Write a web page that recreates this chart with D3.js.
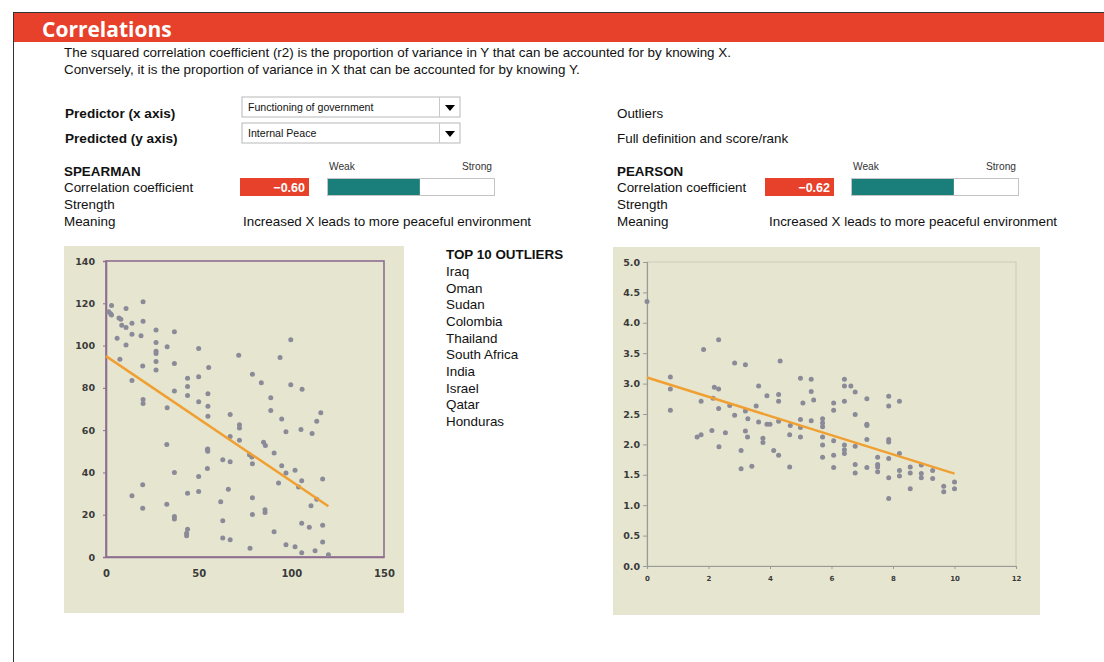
<!DOCTYPE html>
<html>
<head>
<meta charset="utf-8">
<script src="https://cdn.jsdelivr.net/npm/d3@7/dist/d3.min.js"></script>
<style>
body { margin: 0; background: #fff; }
svg text { font-family: "Liberation Sans", Arial, sans-serif; }
</style>
</head>
<body>
<div id="sheet"></div>
<script>
const title = "Correlations";
const introLines = [
  "The squared correlation coefficient (r2) is the proportion of variance in Y that can be accounted for by knowing X.",
  "Conversely, it is the proportion of variance in X that can be accounted for by knowing Y."
];
const selectorLabels = ["Predictor (x axis)", "Predicted (y axis)"];
const selectorValues = ["Functioning of government", "Internal Peace"];
const sideLabels = ["Outliers", "Full definition and score/rank"];
const methods = ["SPEARMAN", "PEARSON"];
const rowLabels = ["Correlation coefficient", "Strength", "Meaning"];
const coefficients = [-0.60, -0.62];
const strengthFill = [0.55, 0.61];
const meanings = ["Increased X leads to more peaceful environment", "Increased X leads to more peaceful environment"];
const outlierTitle = "TOP 10 OUTLIERS";
const outliers = ["Iraq", "Oman", "Sudan", "Colombia", "Thailand", "South Africa", "India", "Israel", "Qatar", "Honduras"];

// spearman: ranks
const spearmanPoints = [
  [1.5,116],[2.5,115],[3,114.5],[3,119],[7,113],[8,112.5],[8.5,109.6],[10.8,117.5],[6,103.5],[10.8,108.5],
  [10.8,100.3],[14,110.6],[14,105.4],[7.5,93.5],[18.9,104.6],[20,120.7],[20,111.5],[19.8,90.3],[14,83.5],[20,74.5],
  [20,72.6],[27,107.4],[27,101.4],[27,97.3],[27,96.2],[27,92.5],[27,88.4],[33,99.5],[36.9,106.5],[36.9,91.5],
  [36.9,78.5],[33,70.6],[44,84.5],[44,80.7],[44,76.4],[50,98.6],[50,85.3],[50,73.4],[55.4,89.6],[55,77.2],
  [55,71.3],[55,66.6],[67,67.4],[71.6,95.4],[72,62.6],[72,61],[67,57],[99.7,102.7],[93.9,94.4],[79,86.4],
  [83.8,82.4],[99.7,81.5],[105.8,79.3],[88.9,75.3],[88.9,69.3],[94.8,65.3],[115.9,68.2],[113.7,64.2],[97.1,59.2],[105.2,60.3],
  [111.2,58.4],[72,55.2],[85,54.3],[86,52.7],[54.7,50.8],[90.7,49.2],[77.4,48.4],[78.7,47.3],[63,46],[67,45.1],
  [79,44.1],[94.8,43.2],[102,41],[54.7,41.9],[97.1,39.7],[105.6,36.1],[93.1,35],[116.9,36.9],[103.9,33.1],[66,32.1],
  [113.7,27.3],[61.9,26.1],[79,28],[110.6,24.2],[85.8,22.3],[85.8,21],[79,20.1],[63,17.1],[105.6,16],[109.7,14.1],
  [116.9,15],[90.7,12],[63,9],[67,8.1],[97.1,5.8],[102,4.9],[116.9,7.1],[77.7,4.1],[105.6,2],[112.8,3],
  [120,1.1],[32.8,53.2],[54.9,51.1],[54.9,50],[36.9,40],[50,38.1],[19.8,34.2],[14,29],[44,30.2],[50,31],
  [32.8,25],[19.8,23.1],[36.9,19.1],[36.9,18],[44,13.1],[43.5,11.2],[43.5,10]
];
const spearmanFit = [[0,95],[120,24]];
const spearmanXTicks = [0, 50, 100, 150];
const spearmanYTicks = [0, 20, 40, 60, 80, 100, 120, 140];

// pearson: scores
const pearsonPoints = [
  [0,4.35],[0.76,3.11],[0.76,2.91],[0.76,2.56],[1.84,3.56],[2.33,3.72],[1.76,2.71],[2.19,2.94],[2.33,2.91],[2.15,2.76],
  [2.33,2.59],[2.85,3.34],[3.2,3.31],[2.69,2.64],[2.85,2.48],[3.2,2.55],[3.28,2.42],[3.63,2.96],[3.55,2.63],[3.63,2.37],
  [3.9,2.8],[4.28,2.82],[4.28,2.71],[4.33,3.37],[3.9,2.33],[4.0,2.33],[4.28,2.38],[4.66,2.31],[4.99,3.09],[5.34,3.07],
  [5.07,2.68],[5.34,2.87],[5.42,2.73],[4.99,2.41],[4.99,2.28],[5.34,2.39],[5.71,2.42],[5.71,2.35],[4.64,2.16],[4.99,2.12],
  [5.71,2.12],[1.63,2.12],[1.76,2.16],[2.11,2.23],[2.55,2.19],[3.2,2.22],[3.27,2.12],[3.77,2.1],[2.34,1.96],[3.06,1.9],
  [3.06,1.6],[3.41,1.64],[3.77,2.03],[4.12,1.9],[4.28,1.82],[4.64,1.63],[5.71,2.29],[5.71,1.99],[5.71,1.79],[6.07,2.06],
  [6.07,1.82],[6.07,1.62],[6.42,1.99],[6.42,1.91],[6.42,1.85],[6.77,1.97],[6.77,1.67],[6.77,1.53],[7.15,2.31],[7.15,2.08],
  [7.15,1.62],[7.5,1.79],[7.5,1.67],[7.5,1.63],[7.5,1.55],[7.86,2.08],[7.86,2.04],[7.86,1.77],[7.86,1.45],[7.86,1.11],
  [8.21,1.85],[8.21,1.57],[8.21,1.48],[8.56,1.63],[8.56,1.53],[8.56,1.27],[8.92,1.66],[8.92,1.52],[8.92,1.45],[9.29,1.57],
  [9.29,1.44],[9.65,1.31],[9.65,1.22],[10.0,1.38],[10.0,1.27],[6.42,3.07],[6.42,2.96],[6.63,2.96],[6.77,2.86],[6.07,2.68],
  [6.07,2.56],[6.42,2.71],[7.15,2.75],[7.86,2.79],[7.86,2.63],[8.21,2.71],[6.77,2.49],[7.15,2.33]
];
const pearsonFit = [[0,3.1],[10,1.52]];
const pearsonXTicks = [0, 2, 4, 6, 8, 10, 12];
const pearsonYTicks = [0, 0.5, 1, 1.5, 2, 2.5, 3, 3.5, 4, 4.5, 5];

const W = 1104, H = 662;
const red = "#e8412b", teal = "#1a7f7b", beige = "#e6e6d0", dot = "#8a8a98", orange = "#f0a032";
const bodyFont = "13.4px";

const svg = d3.select("#sheet").append("svg").attr("width", W).attr("height", H);

// frame + header
svg.append("rect").attr("x", 13).attr("y", 13).attr("width", W - 13).attr("height", 29).attr("fill", red);
svg.append("line").attr("x1", 13.5).attr("x2", 13.5).attr("y1", 12).attr("y2", H).attr("stroke", "#333");
svg.append("line").attr("x1", 13).attr("x2", W).attr("y1", 12.5).attr("y2", 12.5).attr("stroke", "#333");
svg.append("text").text(title).attr("x", 42).attr("y", 37)
  .style("font-family", "'Open Sans', 'Noto Sans', sans-serif").style("font-weight", "700")
  .style("font-size", "21px").attr("fill", "#fff");

svg.selectAll("text.intro").data(introLines).enter().append("text")
  .attr("class", "intro").text(d => d)
  .attr("x", 64).attr("y", (d, i) => 57 + i * 17)
  .style("font-size", bodyFont).attr("fill", "#111");

// selectors
svg.selectAll("text.sel").data(selectorLabels).enter().append("text")
  .attr("class", "sel").text(d => d)
  .attr("x", 65).attr("y", (d, i) => 118 + i * 24.5)
  .style("font-size", "13.6px").style("font-weight", "700").attr("fill", "#111");

const boxes = svg.selectAll("g.dd").data(selectorValues).enter().append("g")
  .attr("class", "dd").attr("transform", (d, i) => "translate(242," + (97 + i * 26) + ")");
boxes.append("rect").attr("width", 218).attr("height", 20).attr("fill", "#fff").attr("stroke", "#b8b8b8");
boxes.append("line").attr("x1", 197.5).attr("x2", 197.5).attr("y1", 0).attr("y2", 20).attr("stroke", "#c8c8c8");
boxes.append("path").attr("d", "M203,8 L213,8 L208,14 Z").attr("fill", "#000");
boxes.append("text").text(d => d).attr("x", 6).attr("y", 14)
  .style("font-family", "'Liberation Sans Narrow', 'Arial Narrow', sans-serif")
  .style("font-size", "10.6px").attr("fill", "#111");

svg.selectAll("text.side").data(sideLabels).enter().append("text")
  .attr("class", "side").text(d => d)
  .attr("x", 617).attr("y", (d, i) => 118 + i * 24.5)
  .style("font-size", bodyFont).attr("fill", "#111");

// correlation blocks
const blockX = [64, 617], boxX = [240, 765], barX = [327, 851], meanX = [243, 769];
const barW = 167;
const fillScale = d3.scaleLinear().domain([0, 1]).range([0, barW]);

methods.forEach((m, k) => {
  const g = svg.append("g");
  g.append("text").text(m).attr("x", blockX[k]).attr("y", 176)
    .style("font-size", "13.4px").style("font-weight", "700").attr("fill", "#111");
  g.selectAll("text.row").data(rowLabels).enter().append("text")
    .attr("class", "row").text(d => d)
    .attr("x", blockX[k]).attr("y", (d, i) => 192 + i * 17)
    .style("font-size", bodyFont).attr("fill", "#111");
  g.append("rect").attr("x", boxX[k]).attr("y", 178).attr("width", 69).attr("height", 18).attr("fill", red);
  g.append("text").text(d3.format(".2f")(coefficients[k])).attr("x", boxX[k] + 65).attr("y", 191.5)
    .attr("text-anchor", "end").style("font-size", "12.5px").style("font-weight", "700").attr("fill", "#fff");
  g.append("rect").attr("x", barX[k] + 0.5).attr("y", 178.5).attr("width", barW).attr("height", 17)
    .attr("fill", "#fff").attr("stroke", "#c4c4c4");
  g.append("rect").attr("x", barX[k] + 1).attr("y", 179).attr("width", fillScale(strengthFill[k]))
    .attr("height", 16).attr("fill", teal);
  g.append("text").text("Weak").attr("x", barX[k] + 2).attr("y", 170)
    .style("font-size", "10.2px").attr("fill", "#333");
  g.append("text").text("Strong").attr("x", barX[k] + barW - 2).attr("y", 170).attr("text-anchor", "end")
    .style("font-size", "10.2px").attr("fill", "#333");
  g.append("text").text(meanings[k]).attr("x", meanX[k]).attr("y", 226)
    .style("font-size", bodyFont).attr("fill", "#111");
});

// outliers list
svg.append("text").text(outlierTitle).attr("x", 446).attr("y", 259)
  .style("font-size", "13.4px").style("font-weight", "700").attr("fill", "#111");
svg.selectAll("text.out").data(outliers).enter().append("text")
  .attr("class", "out").text(d => d)
  .attr("x", 446).attr("y", (d, i) => 276 + i * 16.65)
  .style("font-size", bodyFont).attr("fill", "#111");

// scatter helper
function scatter(cfg) {
  const g = svg.append("g");
  g.append("rect").attr("x", cfg.panel[0]).attr("y", cfg.panel[1])
    .attr("width", cfg.panel[2]).attr("height", cfg.panel[3]).attr("fill", beige);
  const x = d3.scaleLinear().domain(cfg.xDomain).range([cfg.plot[0], cfg.plot[1]]);
  const y = d3.scaleLinear().domain(cfg.yDomain).range([cfg.plot[3], cfg.plot[2]]);

  g.append("rect").attr("x", x(cfg.xDomain[0])).attr("y", y(cfg.yDomain[1]))
    .attr("width", x(cfg.xDomain[1]) - x(cfg.xDomain[0]))
    .attr("height", y(cfg.yDomain[0]) - y(cfg.yDomain[1]))
    .attr("fill", "none").attr("stroke", cfg.border).attr("stroke-width", cfg.borderW);

  const ya = g.append("g").attr("transform", "translate(" + x(cfg.xDomain[0]) + ",0)")
    .call(d3.axisLeft(y).tickValues(cfg.yTicks).tickFormat(cfg.yFmt).tickSize(cfg.yTickSize).tickPadding(cfg.yPad));
  const xa = g.append("g").attr("transform", "translate(0," + y(cfg.yDomain[0]) + ")")
    .call(d3.axisBottom(x).tickValues(cfg.xTicks).tickFormat(cfg.xFmt).tickSize(cfg.xTickSize).tickPadding(cfg.xPad));
  [ya, xa].forEach(a => {
    a.select(".domain").attr("stroke", cfg.axisColor).attr("stroke-width", cfg.borderW);
    a.selectAll(".tick line").attr("stroke", cfg.axisColor);
    a.selectAll("text").style("font-family", "'DejaVu Sans', Verdana, sans-serif")
      .style("font-weight", "700").attr("fill", "#3a3a3a");
  });
  ya.selectAll("text").style("font-size", cfg.yFont);
  xa.selectAll("text").style("font-size", cfg.xFont);

  g.selectAll("circle").data(cfg.points).enter().append("circle")
    .attr("cx", d => x(d[0])).attr("cy", d => y(d[1])).attr("r", 2.5).attr("fill", dot);

  g.append("path").datum(cfg.fit)
    .attr("d", d3.line().x(d => x(d[0])).y(d => y(d[1])))
    .attr("stroke", orange).attr("stroke-width", 2.5).attr("fill", "none");
}

scatter({
  panel: [64, 246, 340, 367],
  plot: [106, 384, 261, 557],
  xDomain: [0, 150], yDomain: [0, 140],
  xTicks: spearmanXTicks, yTicks: spearmanYTicks,
  xFmt: d3.format("d"), yFmt: d3.format("d"),
  border: "#8e6e90", borderW: 1.6, axisColor: "#8e6e90",
  yTickSize: 3, yPad: 8, xTickSize: 0, xPad: 13,
  yFont: "9.5px", xFont: "10px",
  points: spearmanPoints, fit: spearmanFit
});

scatter({
  panel: [613, 247, 427, 368],
  plot: [647, 1016, 262, 566],
  xDomain: [0, 12], yDomain: [0, 5],
  xTicks: pearsonXTicks, yTicks: pearsonYTicks,
  xFmt: d3.format("d"), yFmt: d3.format(".1f"),
  border: "#cfcfbf", borderW: 1.2, axisColor: "#9a9a9a",
  yTickSize: 4, yPad: 3, xTickSize: 3, xPad: 7,
  yFont: "9.5px", xFont: "7px",
  points: pearsonPoints, fit: pearsonFit
});
</script>
</body>
</html>
